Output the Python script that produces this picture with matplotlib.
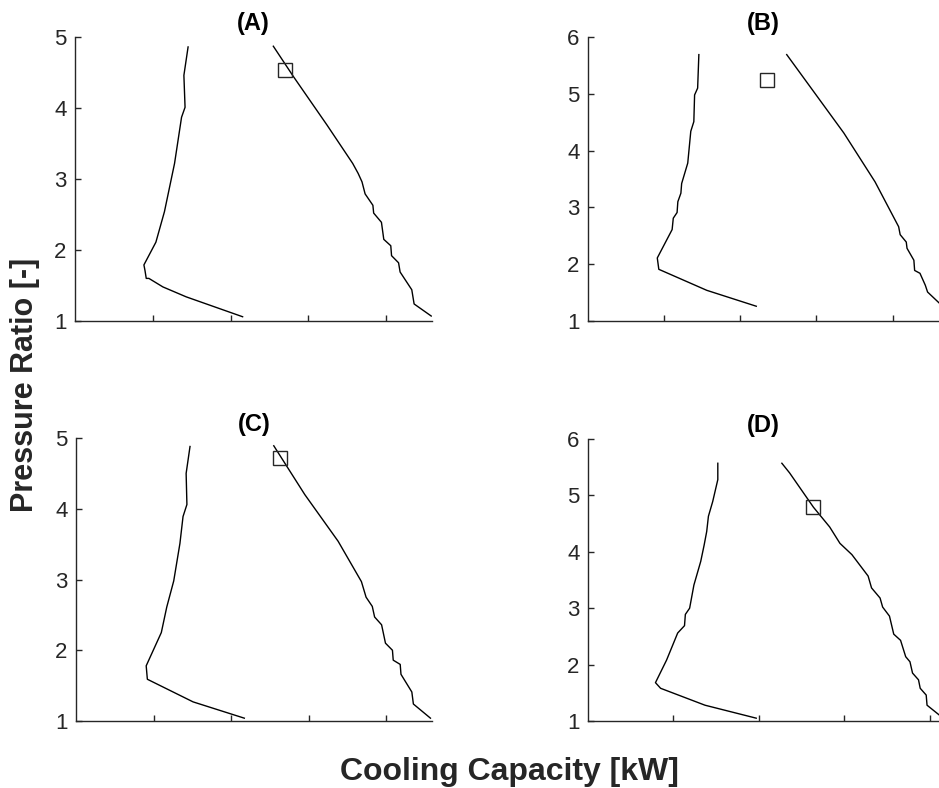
import matplotlib.pyplot as plt

plt.rcParams['font.family'] = ['Liberation Sans', 'DejaVu Sans']

# panel (A)
a_left_x = [1.454, 1.40, 1.415, 1.37, 1.28, 1.15, 1.04, 0.886, 0.90, 0.916, 0.95, 1.13, 1.43, 2.155]
a_left_y = [4.86, 4.46, 4.01, 3.87, 3.22, 2.54, 2.11, 1.79, 1.71, 1.60, 1.60, 1.48, 1.34, 1.06]
a_right_x = [2.55, 2.81, 3.24, 3.57, 3.64, 3.69, 3.73, 3.83, 3.84, 3.94, 3.97, 4.06, 4.07, 4.16, 4.18, 4.33, 4.36, 4.58]
a_right_y = [4.87, 4.44, 3.76, 3.22, 3.08, 2.96, 2.79, 2.63, 2.52, 2.39, 2.15, 2.06, 1.92, 1.82, 1.69, 1.44, 1.24, 1.07]
a_point = (2.70, 4.54)

# panel (B)
b_left_x = [1.456, 1.44, 1.40, 1.39, 1.35, 1.31, 1.27, 1.23, 1.22, 1.18, 1.17, 1.12, 1.105, 0.91, 0.93, 1.56, 2.21]
b_left_y = [5.69, 5.10, 4.98, 4.51, 4.34, 3.78, 3.60, 3.42, 3.25, 3.10, 2.91, 2.81, 2.61, 2.11, 1.91, 1.54, 1.26]
b_right_x = [2.61, 3.36, 3.77, 4.08, 4.10, 4.18, 4.19, 4.28, 4.29, 4.36, 4.43, 4.46, 4.61]
b_right_y = [5.69, 4.31, 3.45, 2.66, 2.52, 2.39, 2.28, 2.07, 1.89, 1.84, 1.63, 1.51, 1.32]
b_point = (2.35, 5.25)

# panel (C)
c_left_x = [1.47, 1.42, 1.43, 1.38, 1.34, 1.26, 1.17, 1.10, 0.905, 0.92, 1.51, 2.17]
c_left_y = [4.88, 4.50, 4.06, 3.89, 3.51, 2.98, 2.61, 2.25, 1.78, 1.59, 1.27, 1.04]
c_right_x = [2.55, 2.95, 3.38, 3.68, 3.74, 3.82, 3.85, 3.94, 3.99, 4.08, 4.09, 4.18, 4.19, 4.33, 4.35, 4.57]
c_right_y = [4.89, 4.20, 3.54, 2.97, 2.75, 2.62, 2.47, 2.36, 2.10, 2.00, 1.86, 1.80, 1.66, 1.41, 1.24, 1.04]
c_point = (2.63, 4.72)

# panel (D)
d_left_x = [1.52, 1.52, 1.46, 1.41, 1.39, 1.36, 1.32, 1.24, 1.19, 1.14, 1.13, 1.05, 0.92, 0.79, 0.85, 1.37, 1.97]
d_left_y = [5.57, 5.28, 4.89, 4.63, 4.36, 4.12, 3.83, 3.41, 3.00, 2.89, 2.69, 2.56, 2.08, 1.68, 1.58, 1.28, 1.05]
d_right_x = [2.27, 2.36, 2.64, 2.83, 2.95, 3.09, 3.28, 3.32, 3.42, 3.45, 3.53, 3.58, 3.66, 3.72, 3.77, 3.80, 3.87, 3.89, 3.96, 3.97, 4.11]
d_right_y = [5.57, 5.40, 4.79, 4.44, 4.15, 3.95, 3.57, 3.36, 3.18, 3.02, 2.86, 2.54, 2.43, 2.14, 2.05, 1.85, 1.73, 1.58, 1.46, 1.28, 1.11]
d_point = (2.63, 4.80)

panels = [
    ("(A)", a_left_x, a_left_y, a_right_x, a_right_y, a_point, 4.59, 5, [75, 37, 432, 321]),
    ("(B)", b_left_x, b_left_y, b_right_x, b_right_y, b_point, 4.61, 6, [588, 37, 939, 321]),
    ("(C)", c_left_x, c_left_y, c_right_x, c_right_y, c_point, 4.59, 5, [76, 438, 432, 721]),
    ("(D)", d_left_x, d_left_y, d_right_x, d_right_y, d_point, 4.11, 6, [588, 439, 939, 721]),
]

W, H = 939, 788
fig = plt.figure(figsize=(W / 100, H / 100), dpi=100)
dark = '#262626'

for title, lx, ly, rx, ry, pt, xmax, ymax, box in panels:
    x0, y0, x1, y1 = box
    ax = fig.add_axes([x0 / W, 1 - y1 / H, (x1 - x0) / W, (y1 - y0) / H])
    ax.plot(lx, ly, color='black', lw=1.0)
    ax.plot(rx, ry, color='black', lw=1.0)
    ax.plot([pt[0]], [pt[1]], marker='s', ms=9.5, mfc='none', mec=dark, mew=1.0, ls='none')
    ax.set_xlim(0, xmax)
    ax.set_ylim(1, ymax)
    ax.set_xticks([1, 2, 3, 4])
    ax.set_xticklabels([])
    ax.set_yticks(range(1, ymax + 1))
    ax.tick_params(direction='in', length=4, width=1, colors=dark, labelsize=16, pad=6)
    for s in ['top', 'right']:
        ax.spines[s].set_visible(False)
    for s in ['left', 'bottom']:
        ax.spines[s].set_color(dark)
        ax.spines[s].set_linewidth(1.0)
    ax.set_title(title, fontsize=17, fontweight='bold', color='black', pad=5)

fig.text(509 / W, 1 - 772 / H, 'Cooling Capacity [kW]', fontsize=23, fontweight='bold',
         color=dark, ha='center', va='center')
fig.text(25 / W, 1 - 385 / H, 'Pressure Ratio [-]', fontsize=22, fontweight='bold',
         color=dark, ha='center', va='center', rotation=90)

fig.savefig('out.png', dpi=100)
